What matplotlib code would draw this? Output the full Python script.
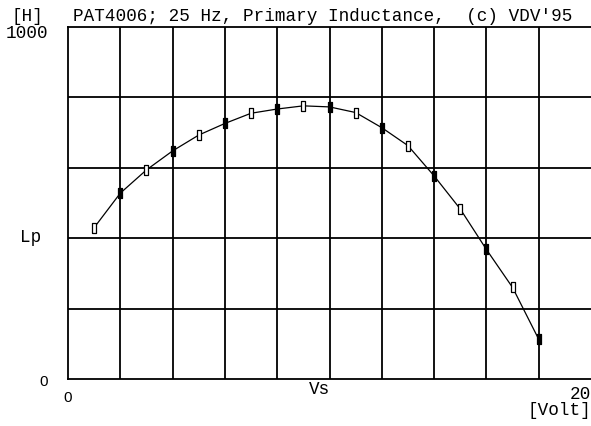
import numpy as np
import matplotlib
matplotlib.use('Agg')
import matplotlib.pyplot as plt

# measured points, 1 V steps
vs = [1, 2, 3, 4, 5, 6, 7, 8, 9, 10, 11, 12, 13, 14, 15, 16, 17, 18]
lp = [430, 528, 594, 648, 693, 726, 755, 767, 776, 773, 757, 714, 663, 577, 483, 368, 260, 113]

W, H = 591, 426
fig = plt.figure(figsize=(W / 100, H / 100), dpi=100)
ax = fig.add_axes([68 / W, (H - 379) / H, (W - 68) / W, 352 / H])
ax.set_xlim(0, 20)
ax.set_ylim(0, 1000)

for x in np.arange(2, 20, 2):
    ax.axvline(x, color='black', lw=1.3)
for y in np.arange(200, 1000, 200):
    ax.axhline(y, color='black', lw=1.3)
for s in ax.spines.values():
    s.set_linewidth(1.3)
ax.spines['right'].set_visible(False)
ax.set_xticks([])
ax.set_yticks([])

rect = [(-0.5, -1), (0.5, -1), (0.5, 1), (-0.5, 1), (-0.5, -1)]
ax.plot(vs, lp, color='black', lw=0.9)
ax.plot(vs[0::2], lp[0::2], ls='none', marker=rect, ms=7, mfc='white', mec='black', mew=0.9)
ax.plot(vs[1::2], lp[1::2], ls='none', marker=rect, ms=7, mfc='black', mec='black', mew=0.9)

mono = 'Liberation Mono'
fs = 12.7

def put(px, py, s, ha='left', va='baseline', family=mono, size=fs):
    fig.text(px / W, 1 - py / H, s, ha=ha, va=va, family=family, fontsize=size)

put(12, 21, '[H]')
put(73, 21, "PAT4006; 25 Hz, Primary Inductance,  (c) VDV'95")
put(48, 38, '1000', ha='right')
put(20, 242, 'Lp')
put(48, 386, '0', ha='right', family='Liberation Sans', size=11)
put(68, 402, '0', ha='center', family='Liberation Sans', size=11)
put(320, 394, 'Vs', ha='center')
put(591, 399, '20', ha='right')
put(591, 415, '[Volt]', ha='right')

fig.savefig('out.png', dpi=100)
